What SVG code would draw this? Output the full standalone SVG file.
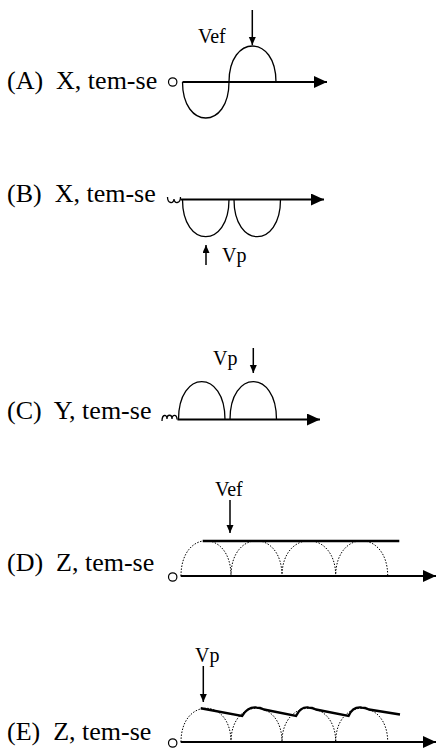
<svg xmlns="http://www.w3.org/2000/svg" width="438" height="752" viewBox="0 0 438 752">
<style>
text{font-family:"Liberation Serif","Times New Roman",serif;fill:#000;white-space:pre}
.lab{font-size:26px}
.sm{font-size:20px}
.axis{stroke:#000;stroke-width:2;fill:none}
.curve{stroke:#000;stroke-width:1.3;fill:none}
.dot{stroke:#000;stroke-width:1;fill:none;stroke-dasharray:1.5 1.5}
.thick{stroke:#000;stroke-width:2.4;fill:none}
.term{stroke:#000;stroke-width:1.2;fill:#fff}
.ptr{stroke:#000;stroke-width:1.5;fill:none}
</style>
<defs>
<marker id="axh" markerUnits="userSpaceOnUse" markerWidth="14" markerHeight="13" refX="13" refY="6" orient="auto"><path d="M0,0 L13,6 L0,12 z" fill="#000"/></marker>
<marker id="ph" markerUnits="userSpaceOnUse" markerWidth="9" markerHeight="8" refX="8" refY="3.5" orient="auto"><path d="M0,0 L8,3.5 L0,7 z" fill="#000"/></marker>
</defs>

<g id="panelA">
<text class="lab" x="7" y="89">(A)  X, tem-se</text>
<circle class="term" cx="172.7" cy="82" r="4.2"/>
<path class="axis" d="M182.5,82 L327,82" marker-end="url(#axh)"/>
<path class="curve" d="M182.5,82 C182.5,130 229,130 229,82 C229,34 276,34 276,82"/>
<text class="sm" x="198" y="43">Vef</text>
</g>

<g id="panelB">
<text class="lab" x="7" y="202">(B)  X, tem-se</text>
<path class="curve" d="M167.5,197 C167.5,204 174,204 174,199 C174,204 180.5,204 180.5,197"/>
<path class="axis" d="M180.5,199.5 L324,199.5" marker-end="url(#axh)"/>
<path class="curve" d="M182.5,199.5 C182.5,249 229,249 229,199.5 M234,199.5 C234,249 280.5,249 280.5,199.5"/>
<text class="sm" x="222" y="262">Vp</text>
</g>

<g id="panelC">
<text class="lab" x="7" y="419">(C)  Y, tem-se</text>
<path class="curve" d="M162,421 C162,414 167,414 167,419 C167,414 172,414 172,419 C172,414 177,414 177,419.5"/>
<path class="axis" d="M177.5,419.5 L320,419.5" marker-end="url(#axh)"/>
<path class="curve" d="M178.5,419.5 C178.5,369 225,369 225,419.5 M230,419.5 C230,369 276.5,369 276.5,419.5"/>
<text class="sm" x="213" y="365">Vp</text>
</g>

<g id="panelD">
<text class="lab" x="7" y="571">(D)  Z, tem-se</text>
<circle class="term" cx="172.7" cy="577" r="4.2"/>
<path class="axis" d="M180.7,576 L436,576" marker-end="url(#axh)"/>
<path class="dot" d="M181,576 C181,529 231,529 231,576 C231,529 282,529 282,576 C282,529 335.7,529 335.7,576 C335.7,529 387.7,529 387.7,576"/>
<path class="thick" d="M202.7,541 L399.3,541"/>
<text class="sm" x="215" y="496">Vef</text>
</g>

<g id="panelE">
<text class="lab" x="7" y="740">(E)  Z, tem-se</text>
<circle class="term" cx="172.7" cy="743" r="4.2"/>
<path class="axis" d="M180.7,742 L436,742" marker-end="url(#axh)"/>
<path class="dot" d="M181,742 C181,697 231,697 231,742 C231,697 282,697 282,742 C282,697 335.7,697 335.7,742 C335.7,697 387.7,697 387.7,742"/>
<path class="thick" d="M200.7,708.3 L242,716 C247,708 252,707 256.5,707.5 C260,707.5 262,708.5 264,709.5 L296,716 C300,708 304,707 308.5,707.5 C312,707.5 314,708.5 316,709.5 L348.5,716 C352,708 357,707 361.5,707.5 C365,707.5 367,708.5 369,709.5 L400,714.5"/>
<text class="sm" x="195" y="662">Vp</text>
</g>

<g id="connectors">
<path class="ptr" d="M252.3,10 L252.3,45" marker-end="url(#ph)"/>
<path class="ptr" d="M206,265 L206,245" marker-end="url(#ph)"/>
<path class="ptr" d="M253.3,348 L253.3,373" marker-end="url(#ph)"/>
<path class="ptr" d="M230,500 L230,533" marker-end="url(#ph)"/>
<path class="ptr" d="M203.3,666 L203.3,702" marker-end="url(#ph)"/>
</g>
</svg>
